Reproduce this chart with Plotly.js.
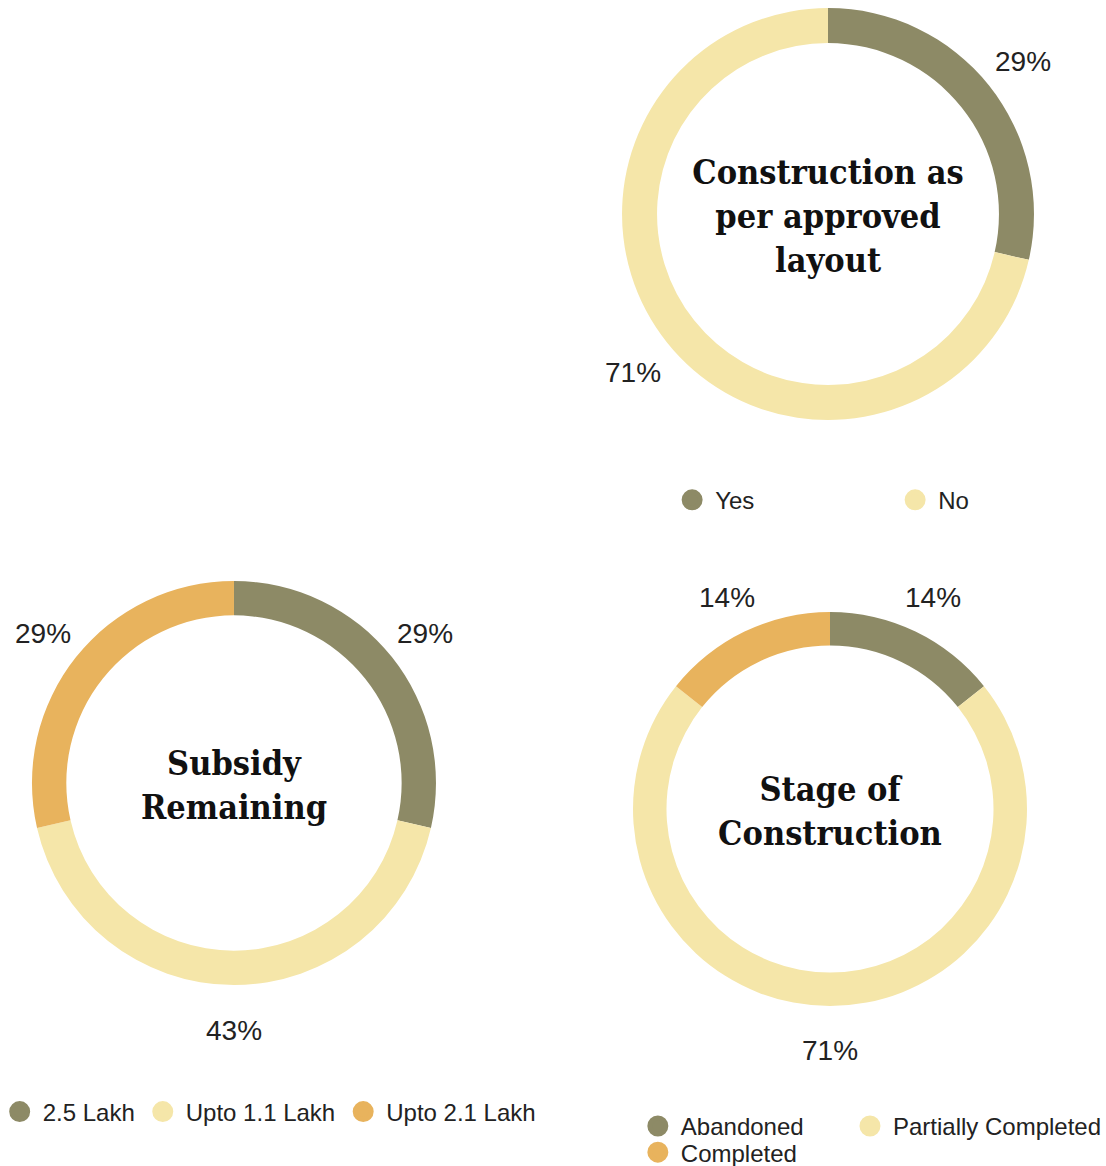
<!DOCTYPE html>
<html>
<head>
<meta charset="utf-8">
<script src="https://cdn.plot.ly/plotly-3.0.1.min.js"></script>
<style>html,body{margin:0;padding:0;background:#fff;}#chart{width:1106px;height:1166px;}</style>
</head>
<body>
<div id="chart"></div>
<script>
// Data (counts read from percentages; 7 respondents)
const layoutLabels = ["Yes", "No"];
const layoutValues = [2, 5];
const subsidyLabels = ["2.5 Lakh", "Upto 1.1 Lakh", "Upto 2.1 Lakh"];
const subsidyValues = [2, 3, 2];
const stageLabels = ["Abandoned", "Partially Completed", "Completed"];
const stageValues = [1, 5, 1];

const W = 1106, H = 1166;
const OLIVE = "#8d8a66";
const LIGHT = "#f5e6a9";
const ORANGE = "#e8b35d";
const colorMap = {
  "Yes": OLIVE, "No": LIGHT,
  "2.5 Lakh": OLIVE, "Upto 1.1 Lakh": LIGHT, "Upto 2.1 Lakh": ORANGE,
  "Abandoned": OLIVE, "Partially Completed": LIGHT, "Completed": ORANGE
};

const labelFont = {family: "Liberation Sans, Arial, sans-serif", size: 28, color: "#222"};
const titleFont = {family: "DejaVu Serif Condensed, DejaVu Serif, serif", size: 34, color: "#111", weight: "bold"};
const LABEL_R = 1.21; // label distance relative to outer radius

function pie(labels, values, domain, title) {
  return {
    type: "pie", labels: labels, values: values,
    marker: {colors: labels.map(l => colorMap[l]), line: {width: 0}},
    hole: 0.83, sort: false, direction: "clockwise", rotation: 0,
    textinfo: "none",
    domain: domain, showlegend: false, hoverinfo: "skip", automargin: false,
    title: {text: title, position: "middle center", font: titleFont}
  };
}

// percentage labels around the ring, derived from the values and the pie domain
function pieLabels(values, domain) {
  const total = values.reduce((a, b) => a + b, 0);
  const cx = (domain.x[0] + domain.x[1]) / 2, cy = (domain.y[0] + domain.y[1]) / 2;
  const rPx = Math.min((domain.x[1] - domain.x[0]) * W, (domain.y[1] - domain.y[0]) * H) / 2;
  let cum = 0;
  return values.map(v => {
    const theta = 2 * Math.PI * (cum + v / 2) / total;
    cum += v;
    return {
      xref: "paper", yref: "paper", showarrow: false,
      x: cx + LABEL_R * rPx * Math.sin(theta) / W,
      y: cy + LABEL_R * rPx * Math.cos(theta) / H,
      xanchor: "center", yanchor: "middle", yshift: -3,
      text: Math.round(100 * v / total) + "%", font: labelFont
    };
  });
}

function legendTraces(labels, legendIds) {
  return labels.map((l, i) => ({
    type: "scatter", mode: "markers", x: [null], y: [null], name: l,
    marker: {symbol: "circle", size: 16, color: colorMap[l], line: {color: colorMap[l], width: 5}},
    legend: legendIds[i], showlegend: true, hoverinfo: "skip"
  }));
}

const dom1 = {x: [0.5624, 0.9349], y: [0.6398, 0.9931]};
const dom2 = {x: [0.0289, 0.3942], y: [0.1552, 0.5017]};
const dom3 = {x: [0.5723, 0.9286], y: [0.1372, 0.4751]};

const data = [
  pie(layoutLabels, layoutValues, dom1, "Construction as<br>per approved<br>layout"),
  pie(subsidyLabels, subsidyValues, dom2, "Subsidy<br>Remaining"),
  pie(stageLabels, stageValues, dom3, "Stage of<br>Construction"),
  ...legendTraces(layoutLabels, ["legend", "legend"]),
  ...legendTraces(subsidyLabels, ["legend2", "legend2", "legend2"]),
  ...legendTraces(stageLabels, ["legend3", "legend5", "legend4"])
];

const legendFont = {family: "Liberation Sans, Arial, sans-serif", size: 24, color: "#222"};
const baseLegend = {orientation: "h", xanchor: "left", yanchor: "middle", font: legendFont,
                    bgcolor: "rgba(0,0,0,0)", itemwidth: 36};
const layout = {
  width: W, height: H,
  margin: {l: 0, r: 0, t: 0, b: 0, autoexpand: false},
  paper_bgcolor: "#fff", plot_bgcolor: "#fff",
  xaxis: {visible: false}, yaxis: {visible: false},
  showlegend: true,
  annotations: [...pieLabels(layoutValues, dom1), ...pieLabels(subsidyValues, dom2), ...pieLabels(stageValues, dom3)],
  legend: Object.assign({}, baseLegend, {x: 0.605, y: 0.571, entrywidth: 172, entrywidthmode: "pixels"}),
  legend2: Object.assign({}, baseLegend, {x: -0.003, y: 0.0463}),
  legend3: Object.assign({}, baseLegend, {x: 0.574, y: 0.034}),
  legend4: Object.assign({}, baseLegend, {x: 0.574, y: 0.0115}),
  legend5: Object.assign({}, baseLegend, {x: 0.7658, y: 0.034})
};

Plotly.newPlot("chart", data, layout, {displayModeBar: false, staticPlot: true});
</script>
</body>
</html>
